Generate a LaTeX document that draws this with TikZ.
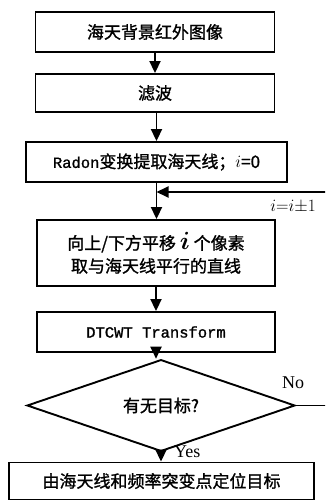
\documentclass[tikz,border=0pt]{standalone}
\usepackage{amsmath}
\usepackage{fontspec}
\newfontfamily\cjk[FakeBold=1.2]{Noto Sans CJK SC}
\newfontfamily\monofnt[FakeBold=1.2]{Liberation Mono}
\newfontfamily\labfnt{Liberation Serif}
\usetikzlibrary{shapes.geometric,arrows.meta}
\begin{document}
\begin{tikzpicture}[x=1pt,y=-1pt,
  box/.style={draw,line width=1.9pt,inner sep=0pt,align=center,
    font=\cjk\fontsize{17}{23}\selectfont},
  conn/.style={line width=1.9pt},
  arr/.style={conn,-{Triangle[width=11pt,length=12pt]}},
  lab/.style={font=\labfnt\fontsize{18}{20}\selectfont,inner sep=0pt}]
\useasboundingbox (0,0) rectangle (325,500);
\fill[white] (0,0) rectangle (325,500);
\clip (0,0) rectangle (325,500);
\node[box,minimum width=239pt,minimum height=40pt] (b1) at (155,32) {海天背景红外图像};
\node[box,minimum width=239pt,minimum height=38pt] (b2) at (155,93) {滤波};
\node[box,minimum width=261pt,minimum height=40pt] (b3) at (156.5,162)
  {{\monofnt\fontsize{15.5}{18}\selectfont Radon}变换提取海天线；$i$=0};
\node[box,minimum width=238pt,minimum height=66pt] (b4) at (156,253)
  {向上/下方平移 {\fontsize{23}{23}\selectfont$\boldsymbol{i}$} 个像素\\取与海天线平行的直线};
\node[box,minimum width=238pt,minimum height=40pt] (b5) at (156,332)
  {{\monofnt\fontsize{15.5}{18}\selectfont DTCWT Transform}};
\node[box,diamond,minimum width=268pt,minimum height=69pt] (dia) at (161,405.5) {有无目标?};
\node[box,minimum width=305pt,minimum height=37pt] (b6) at (161.5,481) {由海天线和频率突变点定位目标};
\coordinate (r1) at (330,405.5);
\coordinate (r2) at (330,192);
\draw[arr] (b1.south) -- (b2.north);
\draw[arr] (b2.south -| b3.south) -- (b3.north);
\draw[arr] (b3.south) -- (b3.south |- b4.north);
\draw[arr] (b4.south) -- (b5.north);
\draw[arr] (b5.south) -- (b5.south |- dia.north);
\draw[arr] (dia.south) -- (dia.south |- b6.north);
\draw[conn] (dia.east) -- (r1) -- (r2);
\draw[arr] (r2) -- (b3.south |- r2);
\node[lab] (no) at (293,383) {No};
\node[lab,anchor=west] (yes) at (174,452) {Yes};
\node[lab,anchor=east] (inc) at (316,207) {$i{=}i{\pm}1$};
\end{tikzpicture}
\end{document}
